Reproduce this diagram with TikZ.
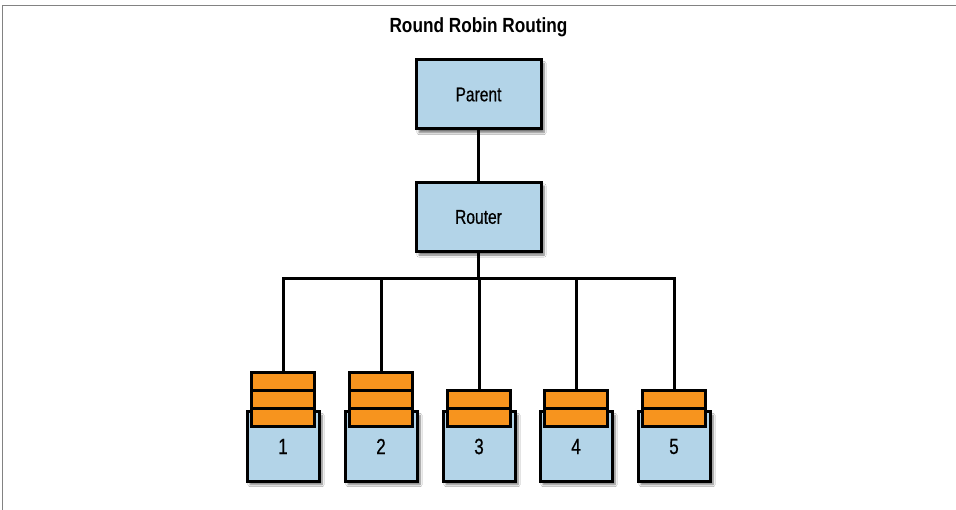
\documentclass[tikz,border=0pt]{standalone}
\usepackage{fontspec}
\setmainfont{Liberation Sans}
\newfontfamily\labelfont[FakeStretch=0.78,FakeBold=0.5]{Liberation Sans}
\newfontfamily\titlefont[FakeStretch=0.84]{Liberation Sans}
\usetikzlibrary{shadows.blur}
\definecolor{boxblue}{RGB}{179,212,232}
\definecolor{msgorange}{RGB}{247,148,30}
\definecolor{framegray}{RGB}{130,130,130}
\tikzset{
  shade/.style={blur shadow={shadow xshift=3pt, shadow yshift=-3.5pt, shadow blur steps=6, shadow opacity=55}},
  actor/.style={draw=black, line width=3pt, fill=boxblue, minimum width=125pt, minimum height=69pt,
    inner sep=0pt, font=\labelfont\fontsize{20}{24}\selectfont, shade},
  bin/.style={draw=black, line width=3pt, fill=boxblue, minimum width=72pt, minimum height=69pt,
    inner sep=0pt, font=\labelfont\fontsize{22}{26}\selectfont, shade},
  msg/.style={draw=black, line width=3pt, fill=msgorange, minimum width=62.5pt, minimum height=18pt,
    inner sep=0pt},
  wire/.style={line width=3pt, draw=black},
}
\begin{document}
\begin{tikzpicture}[x=1pt,y=-1pt]
\useasboundingbox (0,0) rectangle (956,510);
\fill[white] (0,0) rectangle (956,510);
% page frame
\draw[framegray, line width=1.6pt] (2.5,510) -- (2.5,5.5) -- (956,5.5);

\node[font=\titlefont\bfseries\fontsize{20.5}{24}\selectfont] (title) at (478.5,27) {Round Robin Routing};

\node[actor] (parent) at (478.5,94.5) {Parent};
\node[actor] (router) at (478.5,217) {Router};

% bins with queued messages
\foreach \i/\x in {1/283,2/381,3/479,4/576,5/674}{
  \node[bin] (bin\i) at (\x,446.5) {\i};
}
\foreach \i/\x in {1/283,2/381}{
  \node[msg] (q\i c) at (\x,418) {};
  \node[msg] (q\i b) at (\x,400) {};
  \node[msg] (q\i a) at (\x,382) {};
}
\foreach \i/\x in {3/479,4/576,5/674}{
  \node[msg] (q\i b) at (\x,418) {};
  \node[msg] (q\i a) at (\x,400) {};
}

% connectors
\coordinate (busmid) at (478.5,279);
\foreach \i/\x in {1/283,2/381,3/479,4/576,5/674}{
  \coordinate (bus\i) at (\x,279);
}
\draw[wire] (parent) -- (router);
\draw[wire] (router.south) -- (busmid);
\draw[wire, line cap=rect] (bus1) -- (bus5);
\foreach \i in {1,...,5}{
  \draw[wire] (bus\i) -- (q\i a.north);
}
\end{tikzpicture}
\end{document}
